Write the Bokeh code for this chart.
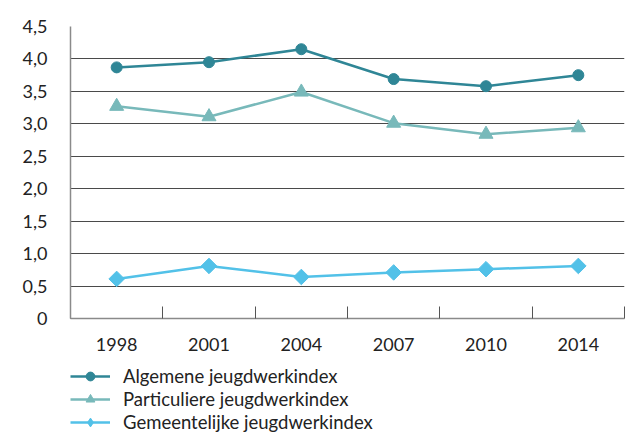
import math
from bokeh.plotting import figure
from bokeh.layouts import column
from bokeh.models import FixedTicker, Legend, LegendItem, Range1d
from bokeh.embed import file_html
from bokeh.resources import INLINE

years = ["1998", "2001", "2004", "2007", "2010", "2014"]
algemene = [3.87, 3.95, 4.15, 3.69, 3.58, 3.75]
particuliere = [3.27, 3.11, 3.49, 3.01, 2.84, 2.94]
gemeentelijke = [0.61, 0.81, 0.64, 0.71, 0.76, 0.81]
series_names = ["Algemene jeugdwerkindex", "Particuliere jeugdwerkindex", "Gemeentelijke jeugdwerkindex"]
y_ticks = [0, 0.5, 1.0, 1.5, 2.0, 2.5, 3.0, 3.5, 4.0, 4.5]
y_labels = ["0", "0,5", "1,0", "1,5", "2,0", "2,5", "3,0", "3,5", "4,0", "4,5"]

FONT = "Lato"
c_alg = "#2f8696"
c_part = "#78b9ba"
c_gem = "#52c1e8"

xs = [i + 0.5 for i in range(len(years))]

p = figure(width=636, height=360, output_backend="svg", toolbar_location=None,
           x_range=Range1d(0, len(years)), y_range=Range1d(0, 4.5),
           min_border_left=70, min_border_right=12, min_border_top=26, min_border_bottom=42)
p.outline_line_color = None
p.background_fill_color = "white"
p.border_fill_color = "white"

# y axis
p.yaxis.ticker = FixedTicker(ticks=y_ticks)
p.yaxis.major_label_overrides = {t: l for t, l in zip(y_ticks, y_labels)}
p.yaxis.major_tick_line_color = None
p.yaxis.minor_tick_line_color = None
p.yaxis.axis_line_color = "#8a8a8a"
p.yaxis.axis_line_width = 1.5
p.yaxis.major_label_standoff = 17
p.yaxis.major_label_text_font = FONT
p.yaxis.major_label_text_font_size = "18px"
p.yaxis.major_label_text_color = "#222222"

# x axis
p.xaxis.ticker = FixedTicker(ticks=xs, minor_ticks=list(range(len(years) + 1)))
p.xaxis.major_label_overrides = {x: y for x, y in zip(xs, years)}
p.xaxis.major_tick_line_color = None
p.xaxis.minor_tick_line_color = "#555555"
p.xaxis.minor_tick_in = 12
p.xaxis.minor_tick_out = 0
p.xaxis.axis_line_color = "#8a8a8a"
p.xaxis.axis_line_width = 1.5
p.xaxis.major_label_standoff = 13
p.xaxis.major_label_text_font = FONT
p.xaxis.major_label_text_font_size = "18px"
p.xaxis.major_label_text_color = "#222222"

p.xgrid.grid_line_color = None
p.ygrid.ticker = FixedTicker(ticks=y_ticks)
p.ygrid.grid_line_color = "#4a4a4a"
p.ygrid.grid_line_width = 1.2

styles = [
    (algemene, c_alg, "circle", 11, 0.0, "circle", 11),
    (particuliere, c_part, "triangle", 14, 0.0, "triangle", 14),
    (gemeentelijke, c_gem, "square", 11, math.pi / 4, "diamond", 18),
]
for vals, col, marker, size, ang, _, _ in styles:
    p.line(xs, vals, line_color=col, line_width=2.5)
    p.scatter(xs, vals, marker=marker, size=size, angle=ang, fill_color=col, line_color=col)

# legend panel below the chart (its series lie outside its visible range)
q = figure(width=636, height=85, output_backend="svg", toolbar_location=None,
           x_range=Range1d(100, 101), y_range=Range1d(100, 101),
           x_axis_location=None, y_axis_location=None,
           min_border_left=0, min_border_right=0, min_border_top=0, min_border_bottom=0)
q.outline_line_color = None
q.grid.grid_line_color = None
q.border_fill_color = "white"
q.background_fill_color = "white"

litems = []
for (vals, col, marker, size, ang, lmarker, lsize), name in zip(styles, series_names):
    lr = q.line(xs, vals, line_color=col, line_width=2.5)
    sr = q.scatter(xs, vals, marker=lmarker, size=lsize, fill_color=col, line_color=col)
    litems.append(LegendItem(label=name, renderers=[lr, sr]))

legend = Legend(items=litems, location=(0, 12), orientation="vertical",
                padding=0, margin=0, spacing=1, glyph_width=40, glyph_height=22,
                label_height=22, label_standoff=13, border_line_color=None,
                background_fill_alpha=0, label_text_font=FONT,
                label_text_font_size="18.5px", label_text_color="#222222")
q.add_layout(legend, "center")

layout = column(p, q, spacing=0)
open("out.html", "w").write(file_html(layout, INLINE))
